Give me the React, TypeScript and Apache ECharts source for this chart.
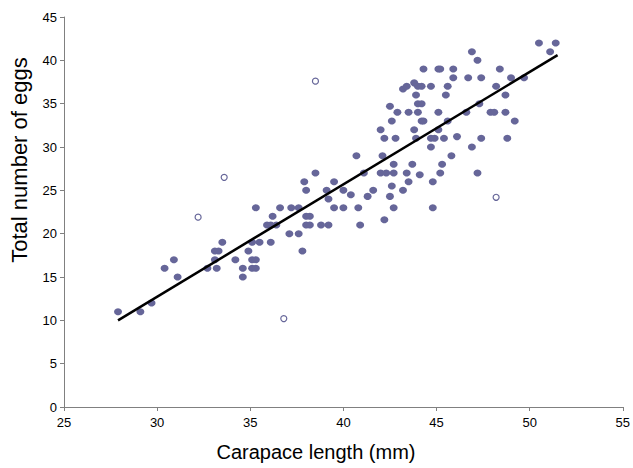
import React, { useEffect, useRef } from "react";
import * as echarts from "echarts";

const xTicks = [25, 30, 35, 40, 45, 50, 55];
const yTicks = [0, 5, 10, 15, 20, 25, 30, 35, 40, 45];

const filledX = [
  27.9, 29.1, 29.7, 30.4, 30.9, 31.1, 32.7, 33.2, 33.1, 33.1, 33.3, 33.5, 34.2, 34.6, 34.6, 34.9, 35.1, 35.5,
  35.1, 35.3, 35.1, 35.3, 36.1, 35.3, 35.9, 36.1, 36.4, 36.2, 36.6, 37.2, 37.6, 37.1, 37.6, 37.8, 37.9, 38.0,
  38.5, 38.0, 38.2, 38.0, 38.2, 38.8, 39.2, 39.1, 39.2, 39.5, 39.5, 40.0, 40.0, 40.4, 40.8, 40.9, 41.1, 41.3,
  41.6, 40.7, 42.0, 42.6, 43.8, 44.2, 44.3, 45.1, 42.2, 42.8, 43.9, 44.7, 44.9, 45.4, 46.1, 46.9, 42.1, 42.7,
  43.7, 44.7, 45.8, 45.3, 42.0, 42.3, 42.7, 43.4, 44.1, 45.2, 47.2, 42.6, 43.5, 44.8, 43.2, 42.5, 42.7, 44.8,
  42.2, 46.9, 47.2, 44.3, 45.1, 45.2, 45.9, 45.9, 46.7, 47.4, 43.2, 43.4, 43.8, 44.0, 44.2, 44.7, 45.6, 43.9,
  45.5, 44.0, 44.2, 42.5, 42.9, 43.5, 44.0, 45.1, 46.6, 47.3, 45.6, 47.4, 50.5, 51.4, 51.1, 48.4, 49.0, 49.7,
  48.2, 48.7, 47.9, 48.1, 48.7, 49.2, 48.8,
];
const filledY = [
  11, 11, 12, 16, 17, 15, 16, 16, 17, 18, 18, 19, 17, 16, 15, 18, 19, 19,
  17, 17, 16, 16, 19, 23, 21, 21, 21, 22, 23, 23, 23, 20, 20, 18, 26, 25,
  27, 22, 22, 21, 21, 21, 21, 25, 24, 26, 23, 25, 23, 24.5, 23, 21, 27, 24.3,
  25, 29, 32, 33, 32, 33, 33, 32, 31, 31, 31, 31, 31, 31, 31.2, 30, 29, 28,
  28, 30, 29, 28, 27, 27, 27, 27, 26.8, 27, 27, 25.5, 26, 26, 25, 24.3, 23, 23,
  21.6, 41, 40, 39, 39, 39, 39, 38, 38, 38, 36.7, 37, 37.4, 37, 37, 37, 37, 36,
  36, 35, 35, 34.7, 34, 34, 34, 34, 34, 35, 33, 31, 42, 42, 41, 39, 38, 38,
  37, 36, 34, 34, 34, 33, 31,
];

const hollowX = [38.5, 33.6, 32.2, 36.8, 48.2];
const hollowY = [37.6, 26.5, 21.9, 10.2, 24.2];

const trendX = [27.9, 51.5];
const trendY = [10.0, 40.6];

const xTitle = "Carapace length (mm)";
const yTitle = "Total number of eggs";

const FONT = "'Liberation Sans', Arial, sans-serif";
const DOT = "#666699";

export default function App() {
  const ref = useRef<HTMLDivElement>(null);
  useEffect(() => {
    if (!ref.current) return;
    const chart = echarts.init(ref.current, undefined, { renderer: "svg" });
    const axisLine = { show: true, lineStyle: { color: "#808080", width: 1 } };
    chart.setOption({
      animation: false,
      backgroundColor: "#ffffff",
      grid: { left: 64, right: 7, top: 17, bottom: 61, containLabel: false },
      xAxis: {
        type: "value",
        min: xTicks[0],
        max: xTicks[xTicks.length - 1],
        interval: 5,
        axisLine,
        axisTick: { show: true, length: 4, lineStyle: { color: "#808080" } },
        splitLine: { show: false },
        axisLabel: { color: "#000", fontFamily: FONT, fontSize: 13, margin: 9 },
      },
      yAxis: {
        type: "value",
        min: yTicks[0],
        max: yTicks[yTicks.length - 1],
        interval: 5,
        axisLine,
        axisTick: { show: true, length: 4, lineStyle: { color: "#808080" } },
        splitLine: { show: false },
        axisLabel: { color: "#000", fontFamily: FONT, fontSize: 13, margin: 7 },
      },
      graphic: [
        {
          type: "text",
          x: 316,
          y: 452,
          style: {
            text: xTitle,
            fontFamily: FONT,
            fontSize: 20,
            fill: "#000",
            textAlign: "center",
            textVerticalAlign: "middle",
          },
        },
        {
          type: "text",
          x: 19,
          y: 160,
          rotation: Math.PI / 2,
          style: {
            text: yTitle,
            fontFamily: FONT,
            fontSize: 22,
            fill: "#000",
            textAlign: "center",
            textVerticalAlign: "middle",
          },
        },
      ],
      series: [
        {
          type: "scatter",
          symbol: "circle",
          symbolSize: [8, 7],
          itemStyle: { color: DOT, opacity: 1 },
          data: filledX.map((x, i) => [x, filledY[i]]),
          z: 2,
        },
        {
          type: "scatter",
          symbol: "circle",
          symbolSize: 6,
          itemStyle: { color: "#ffffff", borderColor: DOT, borderWidth: 1.2, opacity: 1 },
          data: hollowX.map((x, i) => [x, hollowY[i]]),
          z: 2,
        },
        {
          type: "line",
          data: trendX.map((x, i) => [x, trendY[i]]),
          showSymbol: false,
          symbol: "none",
          lineStyle: { color: "#000", width: 2.5 },
          z: 3,
        },
      ],
    });
    return () => chart.dispose();
  }, []);
  return <div ref={ref} style={{ width: 633, height: 468, position: "absolute", left: 0, top: 0 }} />;
}
